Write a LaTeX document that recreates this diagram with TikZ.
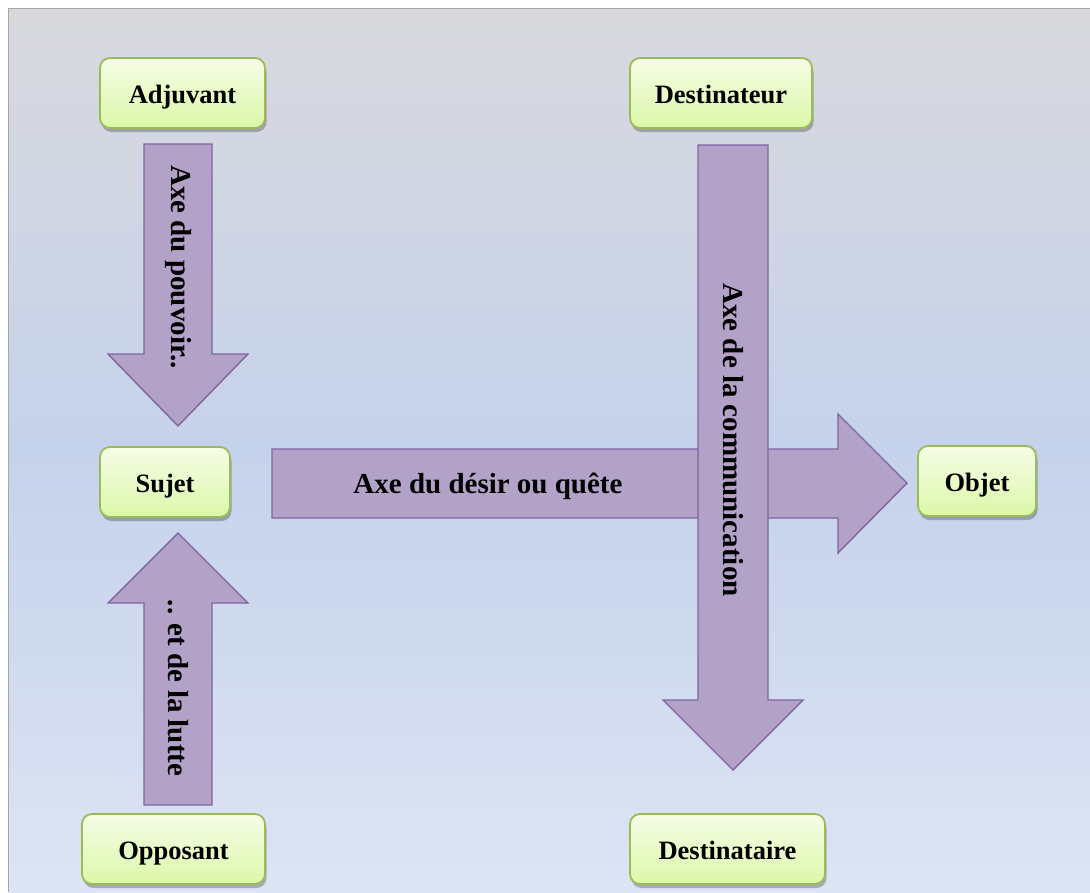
\documentclass[tikz,border=0pt]{standalone}
\usepackage{fontspec}
\setmainfont{Liberation Serif}
\usetikzlibrary{shadows}
\definecolor{bgtop}{RGB}{217,217,221}
\definecolor{bgmid}{RGB}{197,210,235}
\definecolor{bgbot}{RGB}{221,228,243}
\definecolor{boxtop}{RGB}{246,253,231}
\definecolor{boxbot}{RGB}{219,247,168}
\definecolor{boxline}{RGB}{155,187,89}
\definecolor{arrfill}{RGB}{179,162,199}
\definecolor{arrline}{RGB}{128,100,162}
\tikzset{
  actor/.style={draw=boxline, line width=1.8pt, rounded corners=10pt,
    top color=boxtop, bottom color=boxbot,
    drop shadow={shadow xshift=1.5pt, shadow yshift=-4pt, opacity=0.25, fill=black},
    font=\fontsize{26.5}{30}\selectfont\bfseries, inner sep=0pt,
    text height=22pt, text depth=2pt},
  blockarrow/.style={fill=arrfill, draw=arrline, line width=1.4pt, line join=miter},
  arrlabel/.style={font=\fontsize{29}{33}\selectfont\bfseries, inner sep=0pt},
}
\begin{document}
\begin{tikzpicture}[x=1pt,y=-1pt]
\useasboundingbox (0,0) rectangle (1090,892);
% background
\shade[top color=bgtop, bottom color=bgbot, middle color=bgmid, draw=none]
  (8.5,8.5) rectangle (1090,892);
\draw[color={rgb,255:red,166;green,166;blue,166}, line width=1.5pt]
  (8.5,892) -- (8.5,8.5) -- (1090,8.5);
% actor boxes
\node[actor, minimum width=165pt, minimum height=70pt] (adj) at (182.5,93) {Adjuvant};
\node[actor, minimum width=182pt, minimum height=70pt] (dest) at (721,93) {Destinateur};
\node[actor, minimum width=130pt, minimum height=70pt] (suj) at (165,482) {Sujet};
\node[actor, minimum width=118pt, minimum height=70pt] (obj) at (977,481) {Objet};
\node[actor, minimum width=183pt, minimum height=70pt] (opp) at (173.5,849) {Opposant};
\node[actor, minimum width=195pt, minimum height=70pt] (desti) at (727.5,849) {Destinataire};
% arrows
\begin{scope}[drop shadow={shadow xshift=1pt, shadow yshift=-3pt, opacity=0.2, fill=black}]
% down arrow (pouvoir)
\draw[blockarrow] (144,144) -- (212,144) -- (212,354) -- (248,354) -- (178,426)
  -- (108,354) -- (144,354) -- cycle;
% up arrow (lutte)
\draw[blockarrow] (144,805) -- (212,805) -- (212,603) -- (248,603) -- (178,533)
  -- (108,603) -- (144,603) -- cycle;
% horizontal arrow (desir)
\draw[blockarrow] (272,449) -- (838,449) -- (838,414) -- (907,483) -- (838,553)
  -- (838,518) -- (272,518) -- cycle;
% vertical arrow (communication)
\draw[blockarrow] (698,145) -- (768,145) -- (768,700) -- (803,700) -- (733,770)
  -- (663,700) -- (698,700) -- cycle;
\end{scope}
% labels
\node[arrlabel, rotate=-90] (lpouv) at (178,267) {Axe du pouvoir..};
\node[arrlabel, rotate=-90] (llutte) at (178,688) {.. et de la lutte};
\node[arrlabel] (ldesir) at (488,486) {Axe du désir ou quête};
\node[arrlabel, rotate=-90] (lcomm) at (733,440) {Axe de la communication};
\end{tikzpicture}
\end{document}
